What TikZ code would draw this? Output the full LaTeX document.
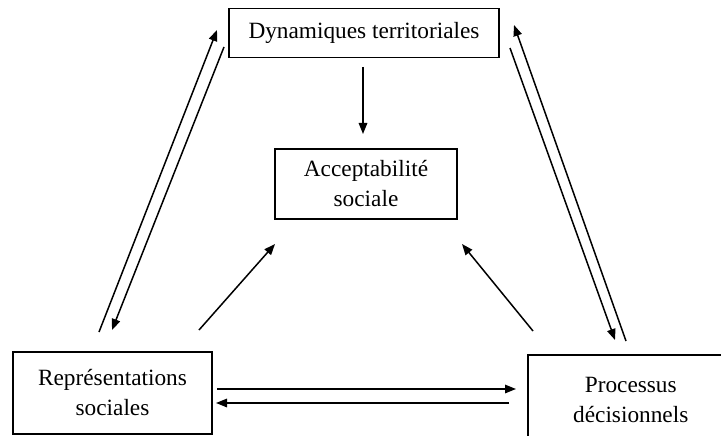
\documentclass[tikz,border=0pt]{standalone}
\usepackage{fontspec}
\setmainfont{Liberation Serif}
\usetikzlibrary{arrows.meta}
\begin{document}
\begin{tikzpicture}[x=1pt,y=-1pt,
  box/.style={draw,line width=1.5pt,rectangle,inner sep=0pt,font=\fontsize{23.3}{30}\selectfont,align=center},
  arr/.style={line width=1.5pt,-{Triangle[length=11pt,width=8.5pt]}}]
\useasboundingbox (0,0) rectangle (721,436);
\fill[white] (0,0) rectangle (721,436);
\node[box,minimum width=270pt,minimum height=49pt] (dyn) at (364,33) {Dynamiques territoriales};
\node[box,minimum width=182pt,minimum height=70pt] (acc) at (366,184) {Acceptabilité\\sociale};
\node[box,minimum width=199pt,minimum height=82pt] (rep) at (112.5,393) {Représentations\\sociales};
\node[box,minimum width=206pt,minimum height=90pt,anchor=north west] (pro) at (527,354) {Processus\\décisionnels};
% arrow endpoints
\coordinate (d1) at (363,67);   \coordinate (d2) at (363,134);
\coordinate (l1s) at (99,332);  \coordinate (l1e) at (217,30);
\coordinate (l2s) at (224,47);  \coordinate (l2e) at (112,330);
\coordinate (r1s) at (626,341); \coordinate (r1e) at (514,25);
\coordinate (r2s) at (510,48);  \coordinate (r2e) at (615,340);
\coordinate (ds1) at (199,330); \coordinate (de1) at (275,244);
\coordinate (ds2) at (533,331); \coordinate (de2) at (462,244);
\coordinate (h1s) at (217,389); \coordinate (h1e) at (516,389);
\coordinate (h2s) at (509,403); \coordinate (h2e) at (216,403);
\draw[arr] (d1) -- (d2);
\draw[arr] (l1s) -- (l1e);
\draw[arr] (l2s) -- (l2e);
\draw[arr] (r1s) -- (r1e);
\draw[arr] (r2s) -- (r2e);
\draw[arr] (ds1) -- (de1);
\draw[arr] (ds2) -- (de2);
\draw[arr] (h1s) -- (h1e);
\draw[arr] (h2s) -- (h2e);
\end{tikzpicture}
\end{document}
